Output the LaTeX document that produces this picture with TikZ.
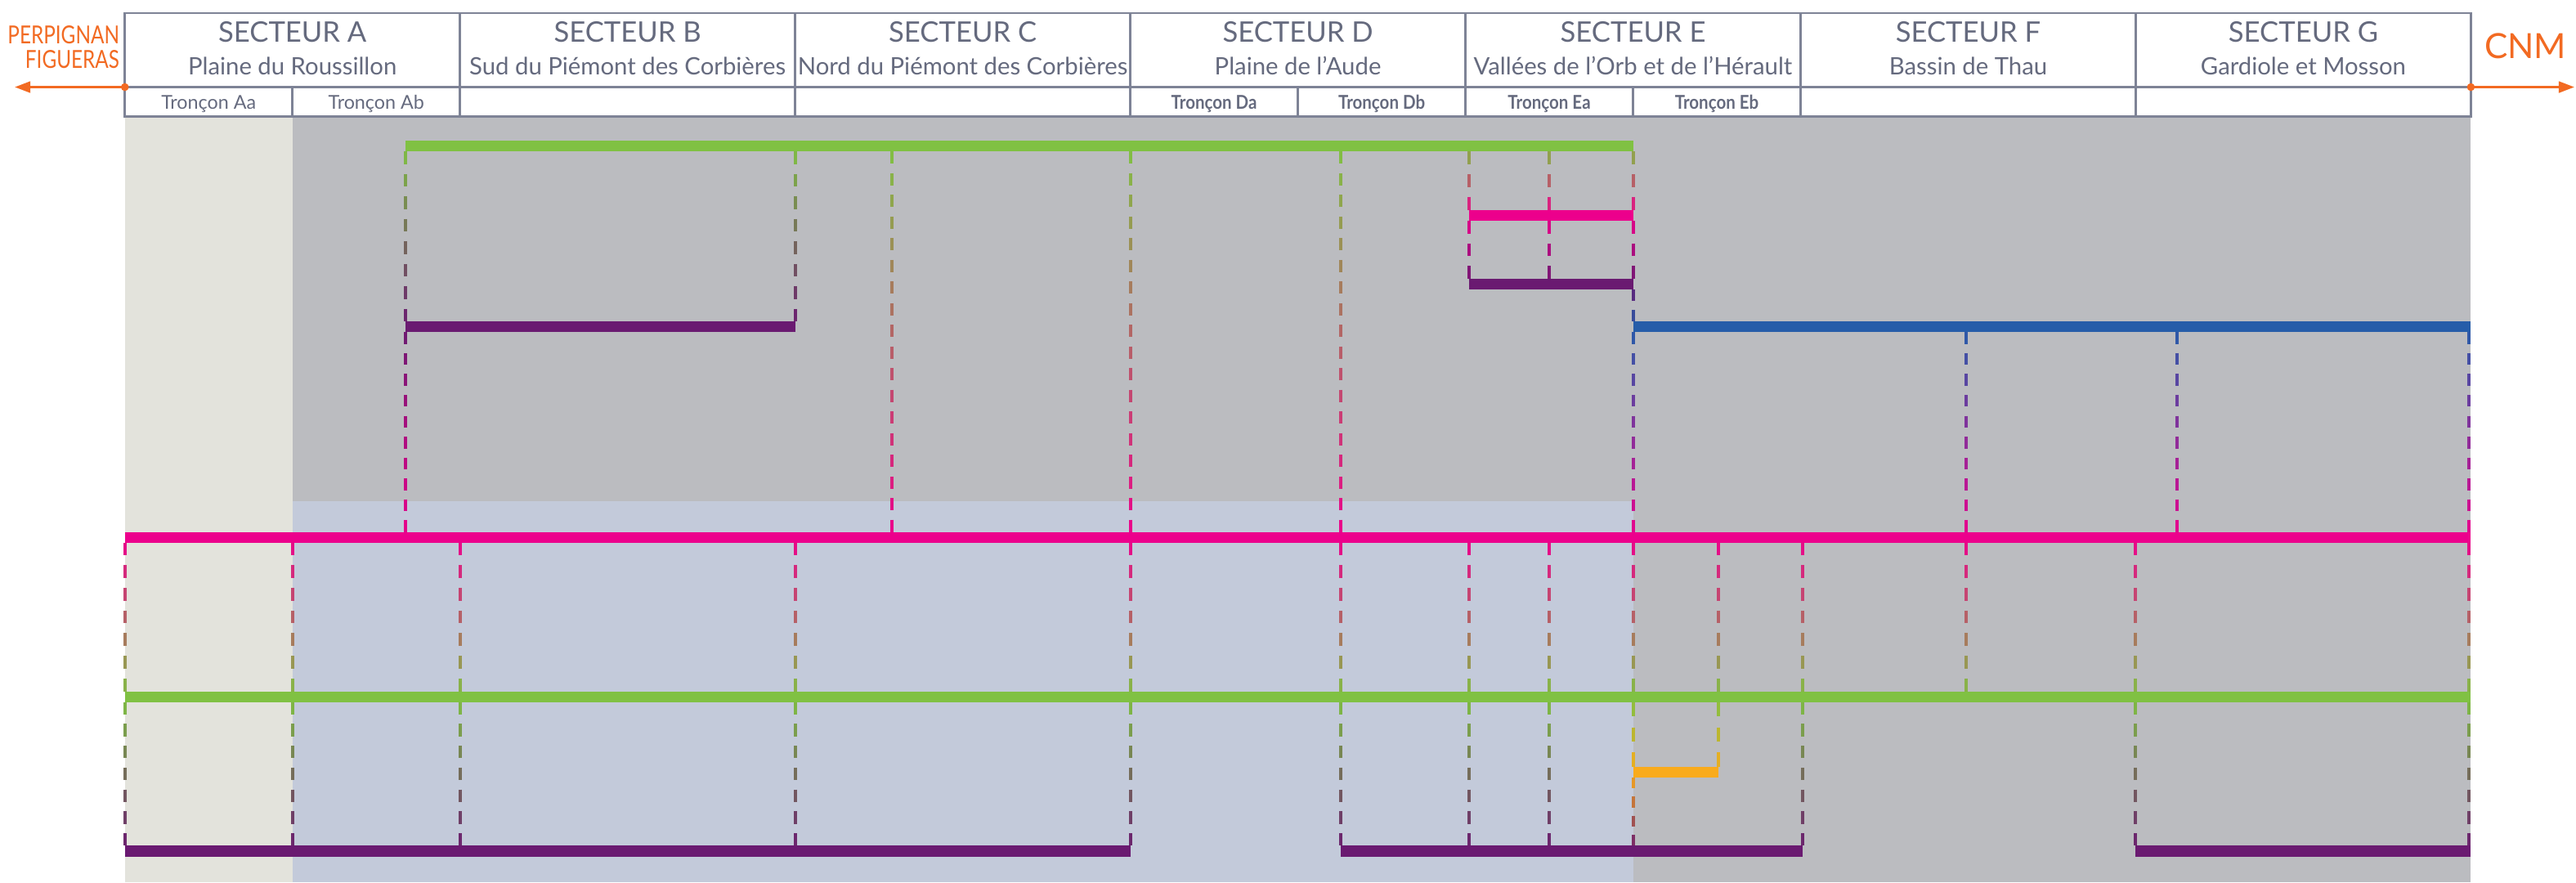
\documentclass[tikz,border=0pt]{standalone}
\usepackage{fontspec}
\setmainfont{Lato}
\usepackage{graphicx}
\usetikzlibrary{arrows.meta}

\definecolor{txtgrey}{HTML}{656A7E}
\definecolor{rulegrey}{HTML}{7E8396}
\definecolor{cnmorange}{HTML}{F26A22}
\definecolor{lgreen}{HTML}{80C143}
\definecolor{lpink}{HTML}{EC008C}
\definecolor{lpurple}{HTML}{6A1A71}
\definecolor{lblue}{HTML}{265DA9}
\definecolor{lorange}{HTML}{F9AB1C}
\definecolor{bggrey}{HTML}{BBBCC0}
\definecolor{bgbeige}{HTML}{E3E3DC}
\definecolor{bgblue}{HTML}{C3CADA}

% dashed link whose colour goes from #4 (top) to #5 (bottom)
\newcommand{\gradash}[5]{%
  \pgfmathsetmacro{\gdL}{#3-#2-6.5}%
  \pgfmathtruncatemacro{\gdN}{round((\gdL+5.8)/13.4)}%
  \pgfmathsetmacro{\gdK}{\gdL/(\gdN*7.6+(\gdN-1)*5.8)}%
  \foreach \gdI in {1,...,\gdN}{%
    \pgfmathsetmacro{\gdA}{#2+3.25+(\gdI-1)*13.4*\gdK}%
    \pgfmathsetmacro{\gdB}{\gdA+7.6*\gdK}%
    \pgfmathtruncatemacro{\gdT}{((\gdA+\gdB)/2-#2)/(#3-#2)*100}%
    \draw[dashline, draw=#5!\gdT!#4] (#1,\gdA) -- (#1,\gdB);
  }%
}

\begin{document}
\begin{tikzpicture}[x=0.2mm, y=-0.2mm,
sector/.style={text=txtgrey, anchor=base, inner sep=0, font=\fontsize{9.8}{11}\selectfont},
subname/.style={text=txtgrey, anchor=base, inner sep=0, font=\fontsize{8.3}{10}\selectfont},
troncon/.style={text=txtgrey, anchor=base, inner sep=0, font=\fontsize{6.6}{8}\selectfont},
tronconbold/.style={troncon, font=\fontsize{6.6}{8}\selectfont\bfseries},
city/.style={text=cnmorange, anchor=base east, inner sep=0, font=\fontsize{8.6}{10}\selectfont},
frame/.style={draw=rulegrey, line width=0.25mm},
bar/.style={line width=1.3mm},
dashline/.style={line width=0.4mm},
link/.style={draw=cnmorange, line width=0.3mm, -{Triangle[length=1.9mm, width=1.35mm]}},
]

% page
\fill[white] (0,0) rectangle (1568,537);
\useasboundingbox (0,0) rectangle (1568,537);

% ends of the line
\coordinate (left) at (76,53);     % Perpignan side
\coordinate (right) at (1504,53);  % CNM side
\coordinate (west) at (9,53);
\coordinate (east) at (1567,53);

% background
\fill[bgbeige] (76,71) rectangle (178,537);
\fill[bggrey] (178,71) rectangle (1504,537);
\fill[bgblue] (178,305) rectangle (994,537);

% header table
\draw[frame] (76,8) rectangle (1504,71);
\draw[frame] (76,53) -- (1504,53);
\foreach \x in {280,484,...,1300} {\draw[frame] (\x,8) -- (\x,71);}
\foreach \x in {178,790,994} {\draw[frame] (\x,53) -- (\x,71);}

\foreach \s/\name [count=\i from 0] in {A/Plaine du Roussillon, B/Sud du Piémont des Corbières, C/Nord du Piémont des Corbières, D/Plaine de l’Aude, E/Vallées de l’Orb et de l’Hérault, F/Bassin de Thau, G/Gardiole et Mosson}{
  \node[sector] (sec\s) at (178+204*\i,25.7) {SECTEUR \s};
  \node[subname] (sub\s) at (178+204*\i,45.6) {\name};
}

\node[troncon] (Aa) at (127,66.4) {Tronçon Aa};
\node[troncon] (Ab) at (229,66.4) {Tronçon Ab};
\foreach \t/\x in {Da/739, Db/841, Ea/943, Eb/1045}{
  \node[tronconbold] (\t) at (\x,66.4) {\scalebox{0.88}[1]{Tronçon \t}};
}

% ends
\node[city] (perpignan) at (73,26.5) {\scalebox{0.8}[1]{PERPIGNAN}};
\node[city] (figueras) at (73,41.5) {\scalebox{0.8}[1]{FIGUERAS}};
\node[text=cnmorange, anchor=base west, inner sep=0, font=\fontsize{12}{14}\selectfont] (cnm) at (1512,35.7) {CNM};
\draw[link] (left) -- (west);
\draw[link] (right) -- (east);
\fill[cnmorange] (left) circle (2.4);
\fill[cnmorange] (right) circle (2.4);

% dashed links, upper part
\gradash{247}{89}{199}{lgreen}{lpurple}
\gradash{247}{199}{327}{lpurple}{lpink}
\gradash{484}{89}{199}{lgreen}{lpurple}
\foreach \x in {543,688,816} {\gradash{\x}{89}{327}{lgreen}{lpink}}
\foreach \x in {894,943,994} {
  \gradash{\x}{89}{131}{lgreen}{lpink}
  \gradash{\x}{131}{173}{lpink}{lpurple}
}
\gradash{994}{173}{199}{lpurple}{lblue}
\foreach \x in {994,1197,1325,1503} {\gradash{\x}{199}{327}{lblue}{lpink}}

% dashed links, lower part
\foreach \x in {76,178,280,484,688,816,894,943,994,1046,1097,1197,1300,1503}{
  \gradash{\x}{327}{424}{lpink}{lgreen}
}
\foreach \x in {76,178,280,484,688,816,894,943,1097,1300,1503}{
  \gradash{\x}{424}{518}{lgreen}{lpurple}
}
\gradash{994}{424}{470}{lgreen}{lorange}
\gradash{1046}{424}{470}{lgreen}{lorange}
\gradash{994}{470}{518}{lorange}{lpurple}

% bars
\draw[bar, lgreen] (247,89) -- (994,89);
\draw[bar, lpink] (894,131) -- (994,131);
\draw[bar, lpurple] (894,173) -- (994,173);
\draw[bar, lpurple] (247,199) -- (484,199);
\draw[bar, lblue] (994,199) -- (1504,199);
\draw[bar, lpink] (76,327) -- (1504,327);
\draw[bar, lgreen] (76,424) -- (1504,424);
\draw[bar, lorange] (994,470) -- (1046,470);
\draw[bar, lpurple] (76,518) -- (688,518);
\draw[bar, lpurple] (816,518) -- (1097,518);
\draw[bar, lpurple] (1300,518) -- (1504,518);

\end{tikzpicture}
\end{document}
